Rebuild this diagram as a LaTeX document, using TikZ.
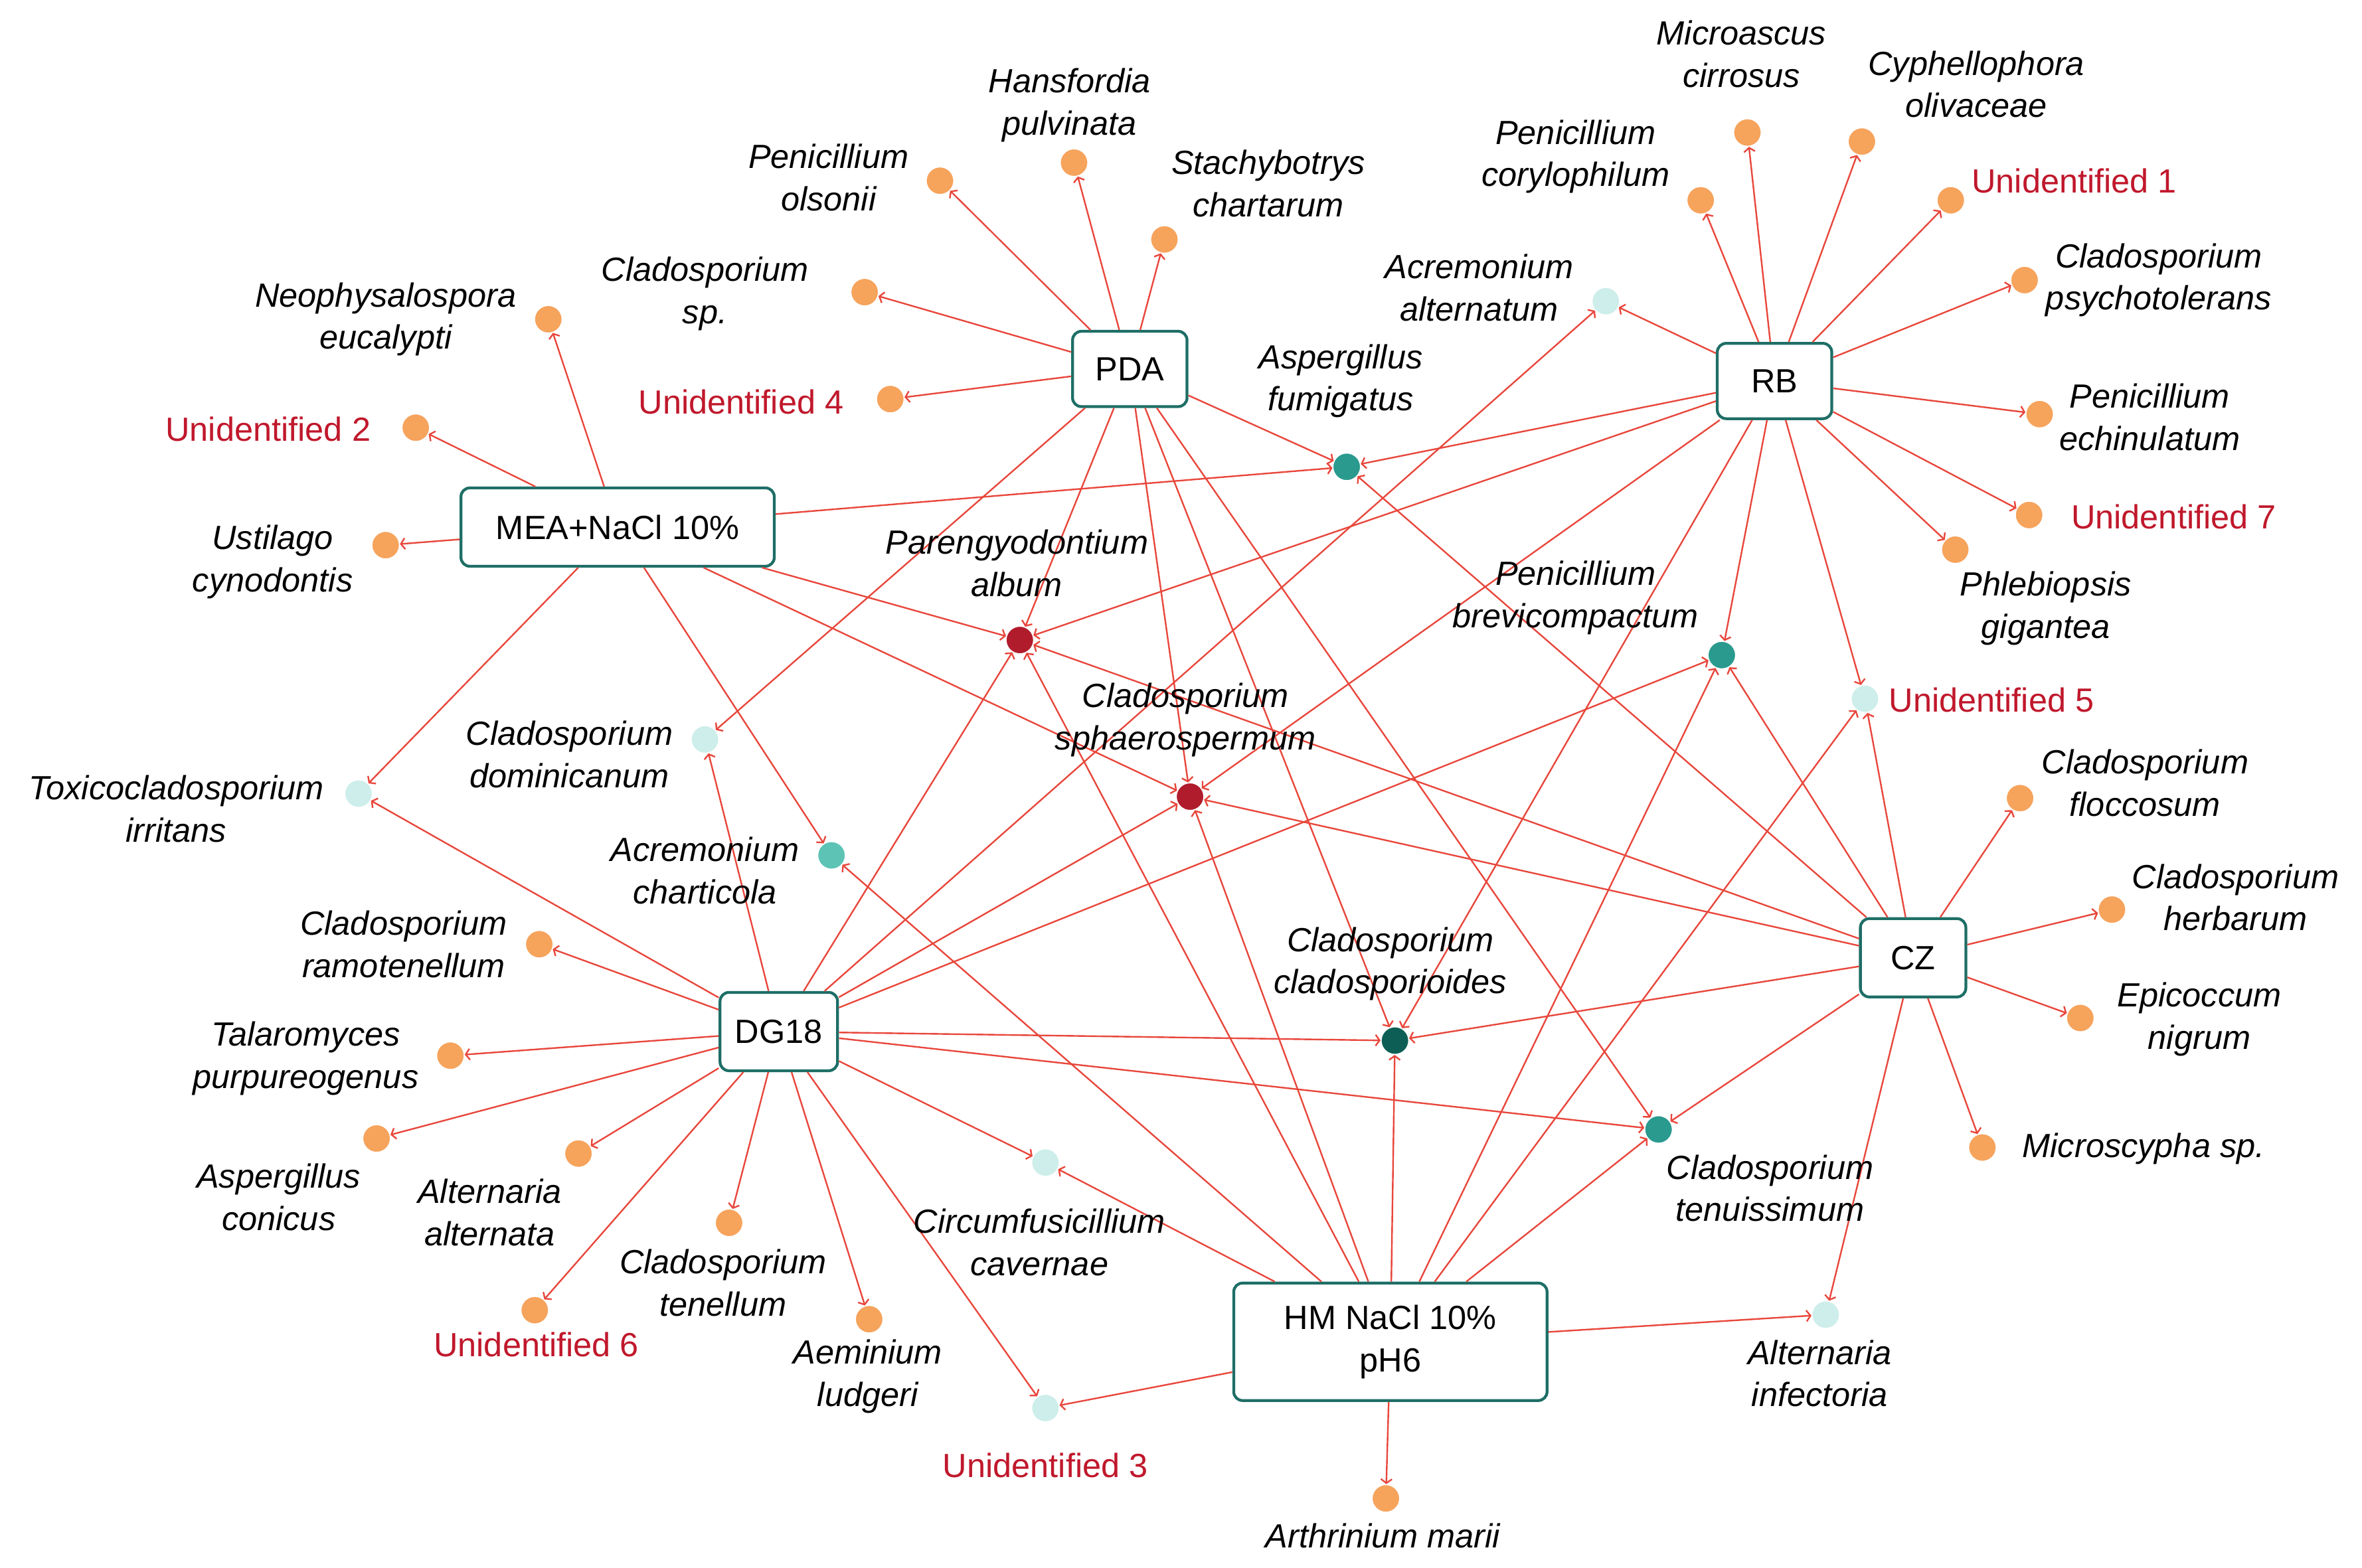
\documentclass[tikz,border=0pt]{standalone}
\usepackage{fontspec}
\setmainfont{Liberation Sans}
\usetikzlibrary{arrows.meta}
\definecolor{ed}{HTML}{E8473C}
\definecolor{hubc}{HTML}{1E6E66}
\definecolor{orn}{HTML}{F6A35C}
\definecolor{lc}{HTML}{CDEEEA}
\definecolor{mc}{HTML}{5CC3B5}
\definecolor{tc}{HTML}{2A9A8E}
\definecolor{dt}{HTML}{0D5F55}
\definecolor{dr}{HTML}{B01C2C}
\definecolor{redtxt}{HTML}{C0182C}
\begin{document}
\begin{tikzpicture}[x=0.03cm,y=-0.03cm,
 hub/.style={draw=hubc,line width=1.6pt,rounded corners=5pt,fill=white,font=\fontsize{19}{24}\selectfont,align=center,inner sep=0pt},
 dot/.style={circle,draw=white,line width=0.6pt,minimum size=0.55cm,inner sep=0pt},
 o/.style={dot,fill=orn}, l/.style={dot,fill=lc}, m/.style={dot,fill=mc}, t/.style={dot,fill=tc}, d/.style={dot,fill=dt}, r/.style={dot,fill=dr},
 lab/.style={font=\fontsize{19}{24}\selectfont\itshape,align=center,inner sep=0pt},
 rlab/.style={font=\fontsize{19}{24}\selectfont,text=redtxt,inner sep=0pt},
 e/.style={draw=ed,line width=0.9pt,-{Straight Barb[length=0.8mm,width=2.2mm]}}]
\useasboundingbox (0,0) rectangle (1568,1041);
% hubs
\node[hub,minimum width=2.28cm,minimum height=1.5cm] (PDA) at (750,245) {PDA};
\node[hub,minimum width=2.28cm,minimum height=1.5cm] (RB) at (1178,253) {RB};
\node[hub,minimum width=6.24cm,minimum height=1.56cm] (MEA) at (410,350) {MEA+NaCl 10\%};
\node[hub,minimum width=2.34cm,minimum height=1.56cm] (DG) at (517,685) {DG18};
\node[hub,minimum width=2.1cm,minimum height=1.56cm] (CZ) at (1270,636) {CZ};
\node[hub,minimum width=6.24cm,minimum height=2.34cm] (HM) at (923,891) {HM NaCl 10\%\\pH6};
% leaves
\node[o] (po) at (624,120) {}; \node[o] (hp) at (713,108) {}; \node[o] (sc) at (773,159) {};
\node[o] (csp) at (574,194) {}; \node[o] (u4) at (591,265) {};
\node[o] (pc) at (1129,133) {}; \node[o] (mi) at (1160,88) {}; \node[o] (cy) at (1236,94) {};
\node[o] (u1) at (1295,133) {}; \node[o] (cps) at (1344,186) {}; \node[o] (pe) at (1354,275) {};
\node[o] (u7) at (1347,342) {}; \node[o] (ph) at (1298,365) {};
\node[o] (ne) at (364,212) {}; \node[o] (u2) at (276,284) {}; \node[o] (us) at (256,362) {};
\node[o] (cra) at (358,627) {}; \node[o] (ta) at (299,701) {}; \node[o] (ac) at (250,756) {};
\node[o] (aa) at (384,766) {}; \node[o] (cte) at (484,812) {}; \node[o] (u6) at (355,870) {};
\node[o] (ae) at (577,876) {};
\node[o] (cf) at (1341,530) {}; \node[o] (ch) at (1402,604) {}; \node[o] (ep) at (1381,676) {};
\node[o] (ms) at (1316,762) {}; \node[o] (am) at (920,995) {};
\node[l] (aal) at (1066,200) {}; \node[l] (tox) at (238,527) {}; \node[l] (cdo) at (468,491) {};
\node[l] (u5) at (1238,464) {}; \node[l] (cir) at (694,772) {}; \node[l] (u3) at (694,935) {};
\node[l] (ai) at (1212,873) {};
\node[m] (ach) at (552,568) {};
\node[t] (af) at (894,310) {}; \node[t] (pb) at (1143,435) {}; \node[t] (ctu) at (1101,750) {};
\node[d] (ccl) at (926,691) {};
\node[r] (pa) at (677,425) {}; \node[r] (csph) at (790,529) {};
% edges
\foreach \a in {po,hp,sc,csp,u4,cdo,af,pa,csph,ccl,ctu} \draw[e] (PDA) -- (\a);
\foreach \a in {pc,mi,cy,u1,cps,pe,u7,ph,aal,af,pb,u5,pa,csph,ccl} \draw[e] (RB) -- (\a);
\foreach \a in {ne,u2,us,tox,af,ach,pa,csph} \draw[e] (MEA) -- (\a);
\foreach \a in {cra,ta,ac,aa,cte,u6,ae,tox,cdo,aal,cir,u3,pb,ctu,ccl,pa,csph} \draw[e] (DG) -- (\a);
\foreach \a in {cf,ch,ep,ms,af,pb,u5,ai,ctu,ccl,pa,csph} \draw[e] (CZ) -- (\a);
\foreach \a in {am,ach,cir,u3,ai,u5,pb,ctu,ccl,pa,csph} \draw[e] (HM) -- (\a);
% labels
\node[lab] (Lpo) at (550,118) {Penicillium\\olsonii};
\node[lab] (Lhp) at (710,70) {Hansfordia\\pulvinata};
\node[lab] (Lsc) at (842,122) {Stachybotrys\\chartarum};
\node[lab] (Lcsp) at (468,195) {Cladosporium\\sp.};
\node[rlab] (Lu4) at (492,267) {Unidentified 4};
\node[lab] (Lne) at (256,212) {Neophysalospora\\eucalypti};
\node[rlab] (Lu2) at (178,285) {Unidentified 2};
\node[lab] (Lus) at (181,373) {Ustilago\\cynodontis};
\node[lab] (Lmi) at (1156,36) {Microascus\\cirrosus};
\node[lab] (Lcy) at (1312,56) {Cyphellophora\\olivaceae};
\node[lab] (Lpc) at (1046,104) {Penicillium\\corylophilum};
\node[rlab] (Lu1) at (1377,120) {Unidentified 1};
\node[lab] (Lcps) at (1433,186) {Cladosporium\\psychotolerans};
\node[lab] (Laal) at (982,191) {Acremonium\\alternatum};
\node[lab] (Laf) at (890,253) {Aspergillus\\fumigatus};
\node[lab] (Lpe) at (1427,277) {Penicillium\\echinulatum};
\node[rlab] (Lu7) at (1443,343) {Unidentified 7};
\node[lab] (Lph) at (1358,404) {Phlebiopsis\\gigantea};
\node[lab] (Lpa) at (675,374) {Parengyodontium\\album};
\node[lab] (Lpb) at (1046,397) {Penicillium\\brevicompactum};
\node[rlab] (Lu5) at (1322,465) {Unidentified 5};
\node[lab] (Lcsph) at (787,478) {Cladosporium\\sphaerospermum};
\node[lab] (Lcdo) at (378,501) {Cladosporium\\dominicanum};
\node[lab] (Ltox) at (117,537) {Toxicocladosporium\\irritans};
\node[lab] (Lach) at (468,578) {Acremonium\\charticola};
\node[lab] (Lcf) at (1424,520) {Cladosporium\\floccosum};
\node[lab] (Lch) at (1484,596) {Cladosporium\\herbarum};
\node[lab] (Lcra) at (268,627) {Cladosporium\\ramotenellum};
\node[lab] (Lccl) at (923,640) {Cladosporium\\cladosporioides};
\node[lab] (Lep) at (1460,677) {Epicoccum\\nigrum};
\node[lab] (Lta) at (203,703) {Talaromyces\\purpureogenus};
\node[lab] (Lac) at (185,795) {Aspergillus\\conicus};
\node[lab] (Laa) at (325,805) {Alternaria\\alternata};
\node[lab] (Lms) at (1423,763) {Microscypha sp.};
\node[lab] (Lctu) at (1175,789) {Cladosporium\\tenuissimum};
\node[lab] (Lcir) at (690,825) {Circumfusicillium\\cavernae};
\node[lab] (Lcte) at (480,852) {Cladosporium\\tenellum};
\node[rlab] (Lu6) at (356,893) {Unidentified 6};
\node[lab] (Lae) at (576,914) {Aeminium\\ludgeri};
\node[lab] (Lai) at (1208,912) {Alternaria\\infectoria};
\node[rlab] (Lu3) at (694,973) {Unidentified 3};
\node[lab] (Lam) at (918,1020) {Arthrinium marii};
\end{tikzpicture}
\end{document}
